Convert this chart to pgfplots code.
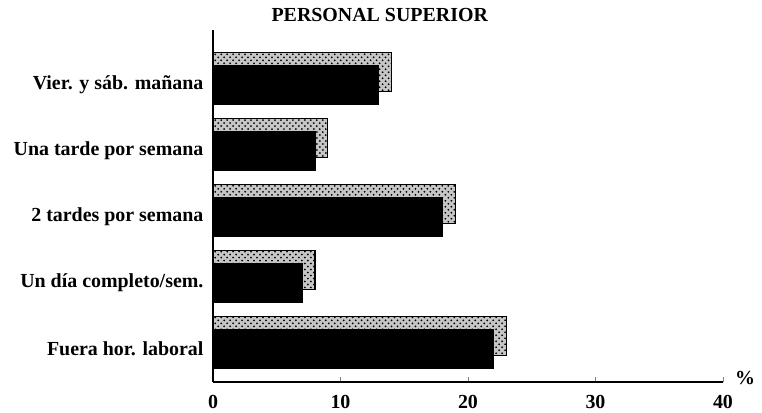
\documentclass[border=0pt]{standalone}
\usepackage{pgfplots}
\pgfplotsset{compat=1.18}
\usepackage{fontspec}
\setmainfont{Liberation Serif}
\usetikzlibrary{patterns}
\begin{document}
\begin{tikzpicture}
\begin{axis}[
  scale only axis, width=255bp, height=176bp,
  at={(0,0)}, anchor=south west,
  xmin=0, xmax=40, ymin=-0.5, ymax=4.83,
  axis x line=bottom, axis y line=left,
  axis line style={line width=1.2pt, -},
  xtick={0,10,20,30,40},
  xtick align=inside, major tick length=2.5bp,
  ytick={0,1,2,3,4},
  yticklabels={Fuera hor. laboral, Un día completo/sem., 2 tardes por semana, Una tarde por semana, Vier. y sáb. mañana},
  ytick style={draw=none},
  tick label style={font=\bfseries\fontsize{10}{11}\selectfont},
  xticklabel style={yshift=-3bp},
  /pgf/number format/assume math mode=true,
  bar width=19.5bp,
  clip=false,
]
\addplot[xbar, bar shift=6.5bp, draw=black, line width=0.6pt, fill=gray!45, postaction={pattern=crosshatch dots}] coordinates {(23,0) (8,1) (19,2) (9,3) (14,4)};
\addplot[xbar, bar shift=0pt, fill=black, draw=black] coordinates {(22,0) (7,1) (18,2) (8,3) (13,4)};
\node[font=\bfseries\fontsize{10}{11}\selectfont] at ([xshift=0bp,yshift=7.5bp]rel axis cs:0.327,1) {PERSONAL SUPERIOR};
\node[font=\bfseries\fontsize{10}{11}\selectfont] at ([xshift=11bp,yshift=2bp]rel axis cs:1,0) {\%};
\end{axis}
\pgfresetboundingbox
\path[use as bounding box] (-106.5bp,-15.5bp) rectangle (274.5bp,191bp);
\end{tikzpicture}
\end{document}
